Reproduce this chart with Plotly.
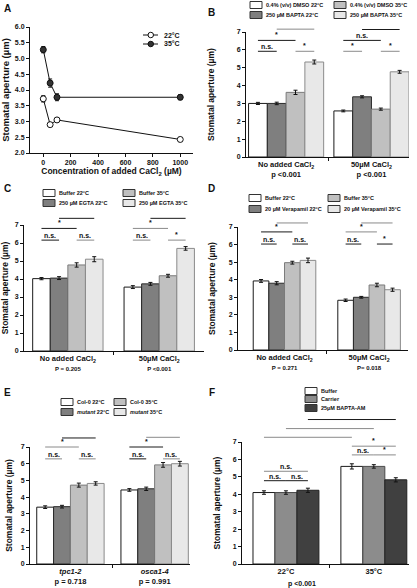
import plotly.graph_objects as go

W, H = 417, 588
FONT = "Liberation Sans, Arial, Helvetica, sans-serif"

# ---------------- data ----------------
# Panel A
A_conc = [0, 50, 100, 1000]
A_series = ["22°C", "35°C"]
A_mean_22 = [3.72, 2.90, 3.05, 2.43]
A_err_22 = [0.10, 0.06, 0.07, 0.06]
A_mean_35 = [5.28, 4.22, 3.77, 3.77]
A_err_35 = [0.10, 0.13, 0.11, 0.08]
A_xticks = [0, 200, 400, 600, 800, 1000]
A_yticks = [2.0, 2.5, 3.0, 3.5, 4.0, 4.5, 5.0, 5.5, 6.0]

# Panel B
B_groups = ["No added CaCl<sub>2</sub><br>p <0.001", "50µM CaCl<sub>2</sub><br>p <0.001"]
B_series = ["0.4% (v/v) DMSO 22°C", "250 µM BAPTA 22°C", "0.4% (v/v) DMSO 35°C", "250 µM BAPTA 35°C"]
B_means = [[3.00, 2.58], [3.00, 3.37], [3.62, 2.68], [5.32, 4.77]]
B_errs = [[0.06, 0.05], [0.07, 0.06], [0.12, 0.06], [0.11, 0.08]]
B_sig = [(0, 1, 5.92, "n.s."), (2, 3, 5.92, "*"), (0, 2, 6.53, "*"), (1, 3, 7.16, "*"),
         (4, 5, 5.92, "*"), (6, 7, 5.92, "*"), (4, 6, 6.53, "n.s."), (5, 7, 7.14, "*")]

# Panel C
C_groups = ["No added CaCl<sub>2</sub><br><span style='font-size:6px'>P = 0.205</span>",
            "50µM CaCl<sub>2</sub><br><span style='font-size:6px'>P <0.001</span>"]
C_series = ["Buffer 22°C", "250 µM EGTA 22°C", "Buffer 35°C", "250 µM EGTA 35°C"]
C_means = [[4.02, 3.55], [4.05, 3.73], [4.78, 4.18], [5.10, 5.70]]
C_errs = [[0.06, 0.08], [0.08, 0.08], [0.12, 0.08], [0.14, 0.10]]
C_sig = [(0, 1, 6.16, "n.s."), (2, 3, 6.16, "n.s."), (0, 2, 6.81, "*"), (1, 3, 7.37, "*"),
         (4, 5, 6.16, "n.s."), (6, 7, 6.16, "*"), (4, 6, 6.81, "*"), (5, 7, 7.37, "*")]

# Panel D
D_groups = ["No added CaCl<sub>2</sub><br><span style='font-size:6px'>P = 0.271</span>",
            "50µM CaCl<sub>2</sub><br><span style='font-size:6px'>P= 0.018</span>"]
D_series = ["Buffer 22°C", "20 µM Verapamil 22°C", "Buffer 35°C", "20 µM Verapamil 35°C"]
D_means = [[3.93, 2.83], [3.80, 3.00], [4.97, 3.70], [5.10, 3.43]]
D_errs = [[0.08, 0.07], [0.09, 0.05], [0.08, 0.10], [0.13, 0.09]]
D_sig = [(0, 1, 6.03, "n.s."), (2, 3, 6.03, "n.s."), (0, 2, 6.72, "*"), (1, 3, 7.23, "*"),
         (4, 5, 6.03, "n.s."), (6, 7, 6.03, "*"), (4, 6, 6.72, "*"), (5, 7, 7.23, "*")]

# Panel E
E_groups = ["<i>tpc1-2</i><br>p = 0.718", "<i>osca1-4</i><br>p = 0.991"]
E_series = ["Col-0 22°C", "<i>mutant</i> 22°C", "Col-0 35°C", "<i>mutant</i> 35°C"]
E_means = [[3.40, 4.43], [3.43, 4.50], [4.72, 5.93], [4.82, 6.00]]
E_errs = [[0.08, 0.08], [0.08, 0.10], [0.12, 0.14], [0.10, 0.14]]
E_sig = [(0, 1, 6.29, "n.s."), (2, 3, 6.29, "n.s."), (0, 2, 7.0, "*"), (1, 3, 7.54, "*"),
         (4, 5, 6.29, "n.s."), (6, 7, 6.29, "n.s."), (4, 6, 7.0, "*"), (5, 7, 7.58, "*")]

# Panel F
F_groups = ["22°C", "35°C"]
F_series = ["Buffer", "Carrier", "25µM BAPTA-AM"]
F_means = [[4.10, 5.60], [4.10, 5.60], [4.23, 4.83]]
F_errs = [[0.10, 0.15], [0.10, 0.10], [0.12, 0.12]]
F_sig = [(0, 1, 4.78, "n.s."), (1, 2, 4.78, "n.s."), (0, 2, 5.32, "n.s."),
         (3, 4, 6.26, "n.s."), (4, 5, 6.26, "*"), (3, 5, 6.76, "*"),
         (0, 3, 7.27, "*"), (1, 4, 7.77, "*"), (2, 5, 8.29, "*")]
F_pvalue = "p <0.001"

BAR_YTICKS = [0, 1, 2, 3, 4, 5, 6, 7]
YTITLE = "Stomatal aperture (µm)"

# ---------------- styles ----------------
FILL4 = ["#ffffff", "#7f7f7f", "#c0c0c0", "#e8e8e8"]
EDGE4 = ["#1a1a1a", "#2a2a2a", "#7a7a7a", "#8a8a8a"]
FILL3 = ["#ffffff", "#8c8c8c", "#404040"]
EDGE3 = ["#1a1a1a", "#4a4a4a", "#202020"]
K, G = "#1a1a1a", "#8a8a8a"

PANELS = {
    "B": dict(ax=2, px=(246, 409), py=(32, 157), xr=(-0.47, 1.44), gap=0.12, ymax=7,
              groups=B_groups, series=B_series, means=B_means, errs=B_errs, sig=B_sig,
              sigcol=[K, G, K, G, G, G, K, K], fills=FILL4, edges=EDGE4,
              leg_cols=[250, 334], leg_rows=[5, 15], standoff=20),
    "C": dict(ax=3, px=(24, 204), py=(225, 351), xr=(-0.48, 1.49), gap=0.23, ymax=7,
              groups=C_groups, series=C_series, means=C_means, errs=C_errs, sig=C_sig,
              sigcol=[K, G, K, K, G, G, G, K], fills=FILL4, edges=EDGE4,
              leg_cols=[43, 123], leg_rows=[193, 203], standoff=11),
    "D": dict(ax=4, px=(238, 408), py=(227, 350), xr=(-0.55, 1.46), gap=0.26, ymax=7,
              groups=D_groups, series=D_series, means=D_means, errs=D_errs, sig=D_sig,
              sigcol=[K, K, K, G, K, K, G, G], fills=FILL4, edges=EDGE4,
              leg_cols=[249, 328], leg_rows=[198, 209], standoff=11),
    "E": dict(ax=5, px=(30, 190), py=(447, 564), xr=(-0.48, 1.42), gap=0.2, ymax=7,
              groups=E_groups, series=E_series, means=E_means, errs=E_errs, sig=E_sig,
              sigcol=[G, G, G, K, K, G, K, G], fills=FILL4, edges=EDGE4,
              leg_cols=[61, 114], leg_rows=[402, 412], standoff=6),
    "F": dict(ax=6, px=(242, 409), py=(442, 564), xr=(-0.5, 1.4), gap=0.25, ymax=7,
              groups=F_groups, series=F_series, means=F_means, errs=F_errs, sig=F_sig,
              sigcol=[K, K, G, G, G, G, G, G, K], fills=FILL3, edges=EDGE3,
              leg_cols=[305], leg_rows=[391, 399, 408], standoff=10),
}

TICKFONT = dict(family=FONT, size=7, color="#111", weight="bold")
TITLEFONT = dict(family=FONT, size=8.5, color="#111", weight="bold")


def px2x(px):
    return px / W


def px2y(py):
    return 1 - py / H


fig = go.Figure()
shapes = []
annotations = []

# ---------------- Panel A ----------------
fig.add_trace(go.Scatter(
    x=A_conc, y=A_mean_22, name=A_series[0], mode="lines+markers", xaxis="x", yaxis="y",
    line=dict(color="#111", width=1),
    marker=dict(symbol="circle", size=6, color="white", line=dict(color="#111", width=1)),
    error_y=dict(type="data", array=A_err_22, color="#111", thickness=1, width=2),
    showlegend=False))
fig.add_trace(go.Scatter(
    x=A_conc, y=A_mean_35, name=A_series[1], mode="lines+markers", xaxis="x", yaxis="y",
    line=dict(color="#111", width=1),
    marker=dict(symbol="circle", size=6, color="#333", line=dict(color="#111", width=1)),
    error_y=dict(type="data", array=A_err_35, color="#111", thickness=1, width=2),
    showlegend=False))

layout_axes = {}
layout_axes["xaxis"] = dict(
    domain=[px2x(30), px2x(193)], range=[-97, 1093], anchor="y", automargin=False,
    tickvals=A_xticks, ticks="outside", ticklen=3, tickcolor="#111",
    showline=True, linecolor="#111", linewidth=1, showgrid=False, zeroline=False,
    tickfont=TICKFONT,
    title=dict(text="Concentration of added CaCl<sub>2</sub> (µM)", font=TITLEFONT, standoff=0))
layout_axes["yaxis"] = dict(
    domain=[px2y(153), px2y(27)], range=[2.0, 6.0], anchor="x", automargin=False,
    tickvals=A_yticks, tickformat=".1f", ticks="outside", ticklen=3, tickcolor="#111",
    showline=True, linecolor="#111", linewidth=1, showgrid=False, zeroline=False,
    tickfont=TICKFONT, title=dict(text=YTITLE, font=dict(TITLEFONT, size=9.5), standoff=5))

# legend A (manual)
A_leg_styles = [("white", 35), ("#333", 44)]
for name, (mfill, ly) in zip(A_series, A_leg_styles):
    shapes.append(dict(type="line", xref="paper", yref="paper",
                       x0=px2x(143), x1=px2x(158), y0=px2y(ly), y1=px2y(ly),
                       line=dict(color="#111", width=1)))
    shapes.append(dict(type="circle", xref="paper", yref="paper",
                       x0=px2x(148), x1=px2x(153.5), y0=px2y(ly + 2.75), y1=px2y(ly - 2.75),
                       fillcolor=mfill, line=dict(color="#111", width=1)))
    annotations.append(dict(text=name, xref="paper", yref="paper", x=px2x(162), y=px2y(ly),
                            xanchor="left", yanchor="middle", showarrow=False,
                            font=dict(family=FONT, size=7, color="#111", weight="bold")))

# ---------------- bar panels ----------------
for key, p in PANELS.items():
    k = p["ax"]
    xa, ya = f"x{k}", f"y{k}"
    n = len(p["series"])
    gw = 1 - p["gap"]
    w = gw / n
    for i, name in enumerate(p["series"]):
        fig.add_trace(go.Bar(
            x=[0, 1], y=p["means"][i], name=name, xaxis=xa, yaxis=ya,
            width=w, offset=-gw / 2 + w * i,
            marker=dict(color=p["fills"][i], line=dict(color=p["edges"][i], width=1)),
            error_y=dict(type="data", array=p["errs"][i], color="#111", thickness=1, width=2),
            showlegend=False))

    def bar_center(idx):
        g, s = divmod(idx, n)
        return g - gw / 2 + w * (s + 0.5)

    for (a, b, yv, label), col in zip(p["sig"], p["sigcol"]):
        shapes.append(dict(type="line", xref=xa, yref=f"{ya} domain",
                           x0=bar_center(a), x1=bar_center(b),
                           y0=yv / p["ymax"], y1=yv / p["ymax"],
                           line=dict(color=col, width=1)))
        annotations.append(dict(text=label, xref=xa, yref=ya,
                                x=(bar_center(a) + bar_center(b)) / 2, y=yv,
                                xanchor="center", yanchor="bottom", showarrow=False,
                                yshift=-1 if label == "n.s." else 0,
                                font=dict(family=FONT, size=7, color="#111", weight="bold")))

    layout_axes[f"xaxis{k}"] = dict(
        domain=[px2x(p["px"][0]), px2x(p["px"][1])], range=list(p["xr"]), anchor=ya,
        automargin=False,
        tickvals=[0, 1], ticktext=p["groups"], ticks="", showline=True,
        linecolor="#111", linewidth=1, showgrid=False, zeroline=False,
        tickfont=dict(TICKFONT, size=7.5),
        minor=dict(tickvals=[0.5], ticks="outside", ticklen=3, tickcolor="#111"))
    layout_axes[f"yaxis{k}"] = dict(
        domain=[px2y(p["py"][1]), px2y(p["py"][0])], range=[0, p["ymax"]], anchor=xa,
        automargin=False,
        tickvals=BAR_YTICKS, ticks="outside", ticklen=3, tickcolor="#111",
        showline=True, linecolor="#111", linewidth=1, showgrid=False, zeroline=False,
        tickfont=TICKFONT, title=dict(text=YTITLE, font=TITLEFONT, standoff=p["standoff"]))

    # manual legend
    cols, rows = p["leg_cols"], p["leg_rows"]
    for i, name in enumerate(p["series"]):
        if len(cols) == 1:
            cx, cy = cols[0], rows[i]
        else:
            cx, cy = cols[i // 2], rows[i % 2]
        shapes.append(dict(type="rect", xref="paper", yref="paper",
                           x0=px2x(cx), x1=px2x(cx + 12), y0=px2y(cy + 3.5), y1=px2y(cy - 3.5),
                           fillcolor=p["fills"][i], line=dict(color="#333", width=1)))
        annotations.append(dict(text=name, xref="paper", yref="paper",
                                x=px2x(cx + 14), y=px2y(cy), xanchor="left", yanchor="middle",
                                showarrow=False,
                                font=dict(family=FONT, size=5.5, color="#111", weight="bold")))

# p-value of panel F
annotations.append(dict(text=F_pvalue, xref="paper", yref="paper", x=px2x(302), y=px2y(584),
                        xanchor="center", yanchor="middle", showarrow=False,
                        font=dict(family=FONT, size=7, color="#111", weight="bold")))

# panel letters
for letter, (lx, ly) in {"A": (8, 8), "B": (212, 12), "C": (8, 188), "D": (212, 188),
                         "E": (8, 392), "F": (212, 392)}.items():
    annotations.append(dict(text=letter, xref="paper", yref="paper", x=px2x(lx), y=px2y(ly),
                            xanchor="center", yanchor="middle", showarrow=False,
                            font=dict(family=FONT, size=10, color="#111", weight="bold")))

fig.update_layout(
    width=W, height=H, margin=dict(l=0, r=0, t=0, b=0, autoexpand=False),
    paper_bgcolor="white", plot_bgcolor="white",
    font=dict(family=FONT, color="#111"),
    barmode="overlay", showlegend=False,
    shapes=shapes, annotations=annotations, **layout_axes)

fig.write_html("out.html", config={"displayModeBar": False},
               post_script="document.body.style.margin='0';document.body.style.padding='0';")
